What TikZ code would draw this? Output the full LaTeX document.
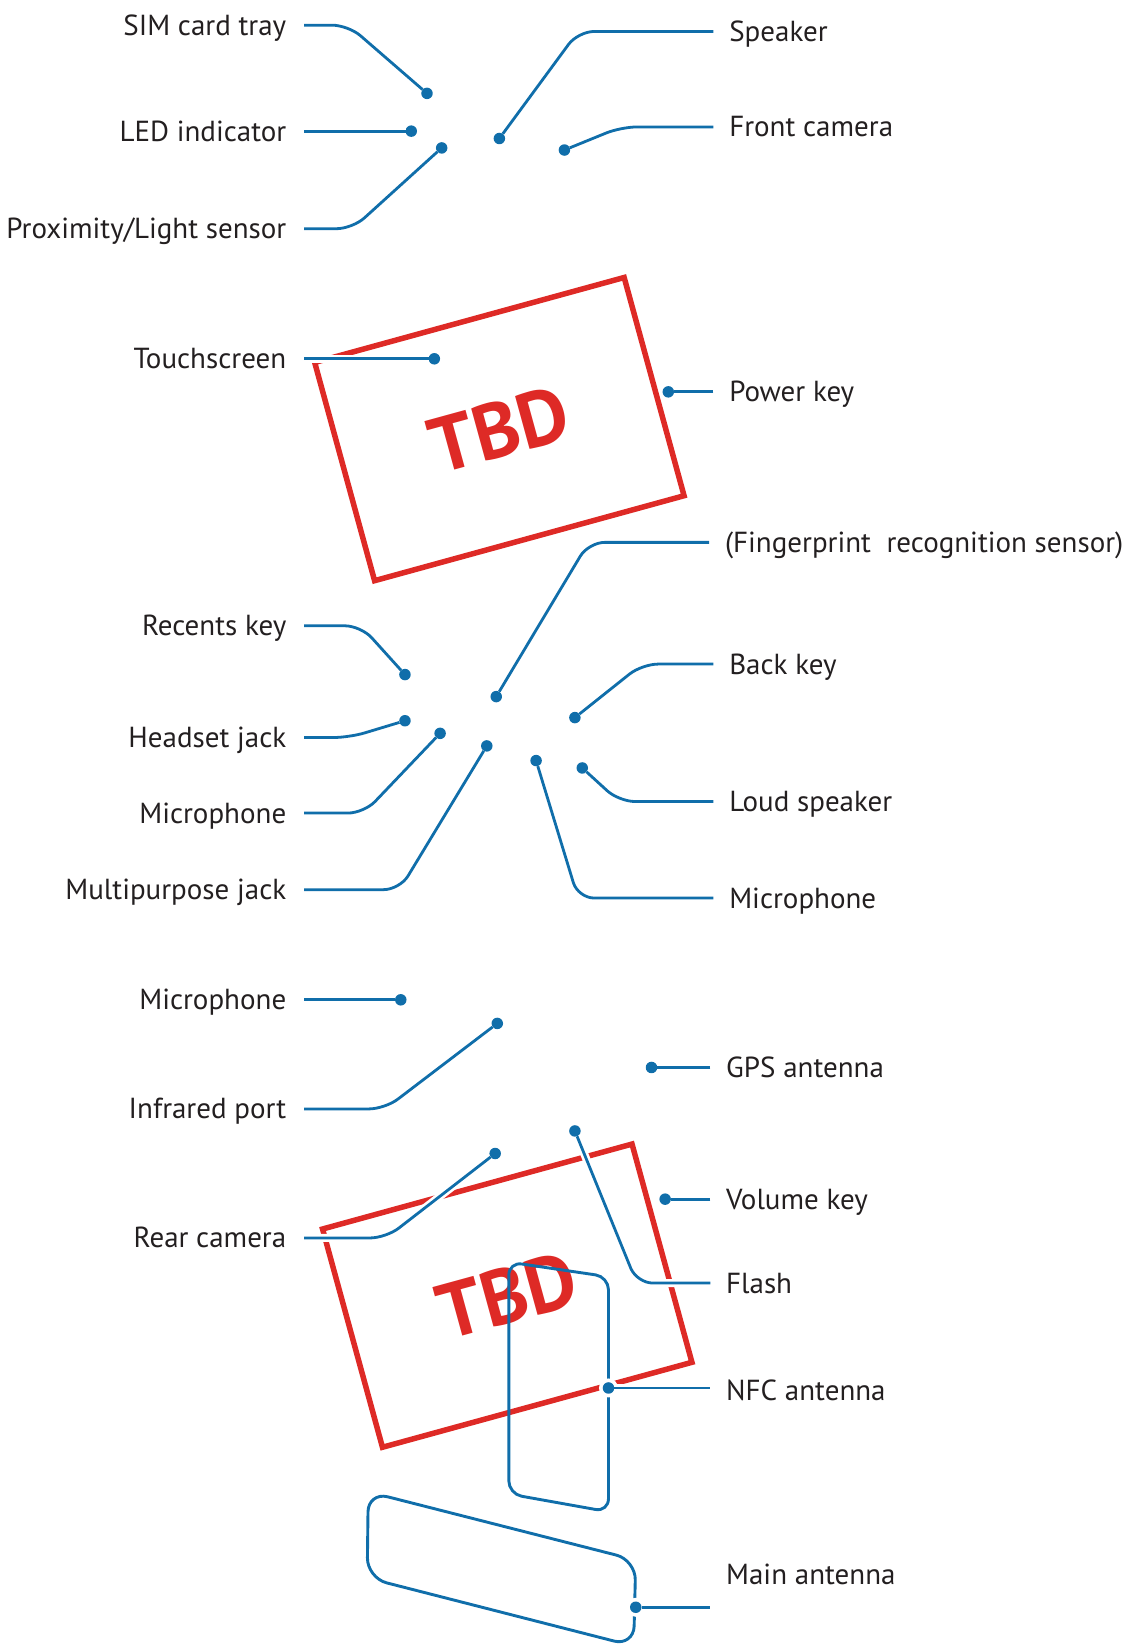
\documentclass[tikz,border=0pt]{standalone}
\usepackage{fontspec}
\setmainfont{PT Sans}
\definecolor{leadblue}{RGB}{16,110,170}
\definecolor{tbdred}{RGB}{222,42,38}
\definecolor{labelgray}{RGB}{35,31,32}

\begin{document}
\begin{tikzpicture}[
  x=1.049pt, y=-1.049pt,
  lblL/.style={anchor=east, inner xsep=17.8pt, inner ysep=0pt, text height=20pt,
               text depth=0pt, text=labelgray, font=\fontsize{29}{34}\selectfont},
  lblR/.style={lblL, anchor=west, inner xsep=15.7pt},
  dot/.style={circle, fill=leadblue, inner sep=0pt, outer sep=0pt, minimum size=11.5pt},
  halo/.style={circle, fill=white, inner sep=0pt, minimum size=19pt},
  lead/.style={draw=leadblue, line width=2.8pt, rounded corners=16pt,
               preaction={draw=white, line width=8pt}},
  antenna/.style={draw=leadblue, line width=2.9pt, rounded corners=#1},
  tbdbox/.style={draw=tbdred, line width=5.5pt, minimum width=320.9pt, minimum height=226.3pt,
                 inner sep=0pt, rotate=15.35, text=tbdred,
                 font=\fontsize{78}{80}\selectfont\bfseries}
]
  \useasboundingbox (0,0) rectangle (1082,1568);

  % Phone outlines
  \node[tbdbox] (front) at (476,409) {TBD};
  \node[tbdbox] (rear) at (483.5,1235) {TBD};

  % Antennas
  \draw[antenna=13pt] (485,1203) -- (580,1217) -- (580,1441) -- (485,1424) -- cycle;
  \draw[antenna=20pt] (351,1422) -- (606,1487) -- (604,1569) -- (350,1504) -- cycle;

  % Top edge
  \node[dot] (simD) at (407,89) {};
  \node[dot] (ledD) at (392,125) {};
  \node[dot] (proxD) at (421,141) {};
  \node[dot] (spkD) at (476,132) {};
  \node[dot] (fcamD) at (538,143) {};

  \node[lblL] (simL) at (290,24) {SIM card tray};
  \node[lblL] (ledL) at (290,125) {LED indicator};
  \node[lblL] (proxL) at (290,218) {Proximity/Light sensor};
  \node[lblR] (spkL) at (680,30) {Speaker};
  \node[lblR] (fcamL) at (680,121) {Front camera};

  \draw[lead] (simL.east) -- (332,24) -- (simD);
  \draw[lead] (ledL.east) -- (ledD);
  \draw[lead] (proxL.east) -- (336,218) -- (proxD);
  \draw[lead] (spkL.west) -- (551,30) -- (spkD);
  \draw[lead] (fcamL.west) -- (592,121) -- (fcamD);

  % Front
  \node[dot] (touchD) at (414,342) {};
  \node[dot] (powerD) at (637,373.5) {};
  \node[dot] (fingD) at (473,664) {};
  \node[dot] (recD) at (386,643) {};
  \node[dot] (headD) at (386,687) {};
  \node[dot] (mic1D) at (419.5,699) {};
  \node[dot] (multiD) at (464,711) {};
  \node[dot] (mic2D) at (511,725) {};
  \node[dot] (loudD) at (555,732) {};
  \node[dot] (backD) at (548,684) {};

  \node[lblL] (touchL) at (290,342) {Touchscreen};
  \node[lblL] (recL) at (290,596.5) {Recents key};
  \node[lblL] (headL) at (290,703) {Headset jack};
  \node[lblL] (mic1L) at (290,775) {Microphone};
  \node[lblL] (multiL) at (290,848) {Multipurpose jack};
  \node[lblR] (powerL) at (680,373.5) {Power key};
  \node[lblR] (fingL) at (676,517) {(Fingerprint\ \ recognition sensor)};
  \node[lblR] (backL) at (680,633) {Back key};
  \node[lblR] (loudL) at (680,764) {Loud speaker};
  \node[lblR] (mic2L) at (680,856) {Microphone};

  \draw[lead] (touchL.east) -- (touchD);
  \draw[lead] (recL.east) -- (344,596.5) -- (recD);
  \draw[lead] (headL.east) -- (333,703) -- (headD);
  \draw[lead] (mic1L.east) -- (347,775) -- (mic1D);
  \draw[lead] (multiL.east) -- (381,848) -- (multiD);
  \draw[lead] (powerL.west) -- (powerD);
  \draw[lead] (fingL.west) -- (561,517) -- (fingD);
  \draw[lead] (backL.west) -- (612,633) -- (backD);
  \draw[lead] (loudL.west) -- (590,764) -- (loudD);
  \draw[lead] (mic2L.west) -- (551,856) -- (mic2D);

  % Rear
  \node[dot] (mic3D) at (382,953) {};
  \node[dot] (irD) at (474,975.5) {};
  \node[dot] (gpsD) at (621,1017.5) {};
  \node[dot] (camD) at (472,1099.5) {};
  \node[dot] (flashD) at (548,1078) {};
  \node[dot] (volD) at (634,1143) {};
  \node[halo] (nfcH) at (580,1323) {};
  \node[dot] (nfcD) at (580,1323) {};
  \node[halo] (mainH) at (606,1532) {};
  \node[dot] (mainD) at (606,1532) {};

  \node[lblL] (mic3L) at (290,953) {Microphone};
  \node[lblL] (irL) at (290,1057) {Infrared port};
  \node[lblL] (camL) at (290,1180) {Rear camera};
  \node[lblR] (gpsL) at (677,1017.5) {GPS antenna};
  \node[lblR] (volL) at (677,1143) {Volume key};
  \node[lblR] (flashL) at (677,1223) {Flash};
  \node[lblR] (nfcL) at (677,1325) {NFC antenna};
  \node[lblR] (mainL) at (677,1501) {Main antenna};

  \draw[lead] (mic3L.east) -- (mic3D);
  \draw[lead] (irL.east) -- (367,1057) -- (irD);
  \draw[lead] (camL.east) -- (368,1180) -- (camD);
  \draw[lead] (gpsL.west) -- (gpsD);
  \draw[lead] (volL.west) -- (volD);
  \draw[lead] (flashL.west) -- (607,1223) -- (flashD);
  \draw[lead] (nfcD) -- (nfcD -| nfcL.west);
  \draw[lead] (mainD) -- (mainD -| mainL.west);
\end{tikzpicture}
\end{document}
